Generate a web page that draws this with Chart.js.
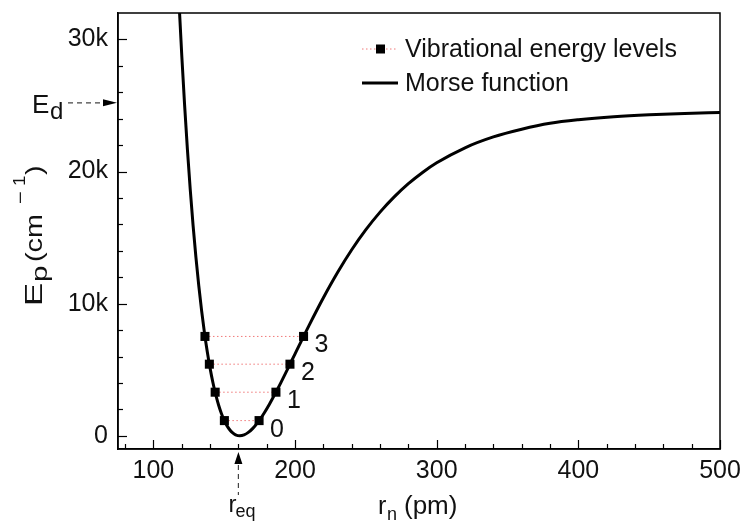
<!DOCTYPE html>
<html>
<head>
<meta charset="utf-8">
<script src="https://cdn.jsdelivr.net/npm/chart.js@4.4.1/dist/chart.umd.min.js"></script>
<style>
    html, body { margin: 0; padding: 0; background: #fff; }
    #wrap { width: 743px; height: 524px; position: relative; }
</style>
</head>
<body>
<div id="wrap"><canvas id="morseChart" width="743" height="524"></canvas></div>
<script>
// --- data ---
const rMorse = [118, 120, 122, 124, 126, 128, 130, 132, 134, 136, 138, 140, 142, 144, 146, 148, 150, 152, 154, 156,
    158, 161, 164, 167, 170, 174, 178, 182, 186, 190, 195, 200, 210, 220, 230, 240, 250, 260, 270, 280,
    290, 300, 320, 340, 360, 380, 400, 425, 450, 475, 500];
const epMorse = [33000, 28820, 25060, 21680, 18640, 15930, 13520, 11380, 9490, 7830, 6380, 5120, 4030, 3110, 2330, 1690, 1160, 750, 440, 215,
    75, 0, 67, 255, 544, 1059, 1692, 2412, 3198, 4029, 5107, 6204, 8380, 10450, 12360, 14080, 15600, 16930, 18080, 19080,
    19930, 20660, 21800, 22620, 23200, 23650, 23920, 24150, 24300, 24400, 24470];

const levelNum = ['0', '1', '2', '3'];
const levelE = [1150, 3300, 5420, 7520];
const levelLeft = [150.1, 143.6, 139.5, 136.4];
const levelRight = [174.6, 186.5, 196.4, 206.0];

const xTickVals = [100, 200, 300, 400, 500];
const yTickVals = [0, 10000, 20000, 30000];
const edValue = 25200;
const rEq = 160;

const FONT = "'Liberation Sans', Arial, sans-serif";
const LEVEL_COLOR = 'rgb(240, 120, 120)';

const morsePts = rMorse.map((r, i) => ({ x: r, y: epMorse[i] }));
const levelPts = [];
levelE.forEach((e, i) => {
    levelPts.push({ x: levelLeft[i], y: e });
    levelPts.push({ x: levelRight[i], y: e });
    levelPts.push({ x: levelRight[i], y: null });
});

function fontOf(size) { return size + 'px ' + FONT; }

// draw text stretched along its own direction
function wideText(ctx, txt, x, y, size, sx) {
    ctx.save();
    ctx.translate(x, y);
    ctx.scale(sx, 1);
    ctx.font = fontOf(size);
    ctx.fillText(txt, 0, 0);
    ctx.restore();
}

// ticks pointing inward, box, annotations and legend
const decor = {
    id: 'decor',
    afterDraw(chart) {
        const ctx = chart.ctx;
        const a = chart.chartArea;
        const xs = chart.scales.x, ys = chart.scales.y;
        ctx.save();

        // box
        ctx.strokeStyle = '#000';
        ctx.lineWidth = 1.5;
        ctx.strokeRect(a.left, a.top, a.right - a.left, a.bottom - a.top);

        // y ticks
        ctx.lineWidth = 1.2;
        for (let v = 0; v < 32000; v += 2000) {
            const y = Math.round(ys.getPixelForValue(v)) + 0.5;
            const len = v % 10000 === 0 ? 9 : 5;
            ctx.beginPath(); ctx.moveTo(a.left, y); ctx.lineTo(a.left + len, y); ctx.stroke();
        }
        // x ticks
        for (let v = 80; v <= 500; v += 20) {
            const x = Math.round(xs.getPixelForValue(v)) + 0.5;
            const len = v % 100 === 0 ? 9 : 5;
            ctx.beginPath(); ctx.moveTo(x, a.bottom); ctx.lineTo(x, a.bottom - len); ctx.stroke();
        }

        ctx.fillStyle = '#111';
        ctx.textBaseline = 'alphabetic';
        ctx.textAlign = 'left';

        // level numbers
        ctx.font = fontOf(25);
        levelNum.forEach((t, i) => {
            const px = xs.getPixelForValue(levelRight[i]);
            const py = ys.getPixelForValue(levelE[i]);
            ctx.fillText(t, px + 11, py + 16);
        });

        // E_d arrow
        const yd = ys.getPixelForValue(edValue);
        ctx.font = fontOf(26);
        ctx.fillText('E', a.left - 86, yd + 10);
        ctx.font = fontOf(24);
        ctx.fillText('d', a.left - 68, yd + 16);
        ctx.strokeStyle = '#444';
        ctx.lineWidth = 1.2;
        ctx.setLineDash([5, 4]);
        ctx.beginPath(); ctx.moveTo(a.left - 50, yd); ctx.lineTo(a.left - 14, yd); ctx.stroke();
        ctx.setLineDash([]);
        ctx.fillStyle = '#000';
        ctx.beginPath();
        ctx.moveTo(a.left - 1, yd); ctx.lineTo(a.left - 15, yd - 3.5); ctx.lineTo(a.left - 15, yd + 3.5);
        ctx.closePath(); ctx.fill();

        // r_eq arrow
        const xe = xs.getPixelForValue(rEq);
        ctx.beginPath();
        ctx.moveTo(xe, a.bottom + 3); ctx.lineTo(xe - 4, a.bottom + 15); ctx.lineTo(xe + 4, a.bottom + 15);
        ctx.closePath(); ctx.fill();
        ctx.strokeStyle = '#444';
        ctx.setLineDash([5, 4]);
        ctx.beginPath(); ctx.moveTo(xe, a.bottom + 16); ctx.lineTo(xe, a.bottom + 46); ctx.stroke();
        ctx.setLineDash([]);
        ctx.fillStyle = '#111';
        ctx.font = fontOf(24);
        ctx.fillText('r', xe - 10, 512);
        ctx.font = fontOf(18);
        ctx.fillText('eq', xe - 3, 517);

        // x title
        const cx = (a.left + a.right) / 2;
        ctx.font = fontOf(25);
        ctx.fillText('r', cx - 41, 514);
        ctx.font = fontOf(18);
        ctx.fillText('n', cx - 32, 520);
        ctx.font = fontOf(26);
        ctx.fillText('(pm)', cx - 15, 514);

        // y title (rotated)
        ctx.save();
        ctx.translate(42, 306);
        ctx.rotate(-Math.PI / 2);
        wideText(ctx, 'E', 0, 0, 24, 1.45);
        wideText(ctx, 'p', 24, 5, 22, 1.35);
        wideText(ctx, '(cm', 44, 0, 24, 1.2);
        wideText(ctx, '\u2212', 102, -16, 17, 1.3);
        wideText(ctx, '1', 120, -17, 17, 1.1);
        wideText(ctx, ')', 131, 0, 24, 1.2);
        ctx.restore();

        // legend
        const lx = a.left + 244;
        ctx.strokeStyle = LEVEL_COLOR;
        ctx.lineWidth = 1;
        ctx.setLineDash([1.5, 2.5]);
        ctx.beginPath(); ctx.moveTo(lx, 49); ctx.lineTo(lx + 36, 49); ctx.stroke();
        ctx.setLineDash([]);
        ctx.fillStyle = '#000';
        ctx.fillRect(lx + 14, 44.5, 9, 9);
        ctx.strokeStyle = '#000';
        ctx.lineWidth = 3;
        ctx.beginPath(); ctx.moveTo(lx, 83); ctx.lineTo(lx + 36, 83); ctx.stroke();
        ctx.fillStyle = '#111';
        ctx.font = fontOf(25);
        ctx.fillText('Vibrational energy levels', lx + 43, 57);
        ctx.fillText('Morse function', lx + 43, 91);

        ctx.restore();
    }
};

function noPad(s) {
    s.paddingLeft = 0; s.paddingRight = 0; s.paddingTop = 0; s.paddingBottom = 0;
}

const ctx = document.getElementById('morseChart');
new Chart(ctx, {
    type: 'line',
    data: {
        datasets: [
            {
                label: 'Vibrational energy levels',
                data: levelPts,
                borderColor: LEVEL_COLOR,
                borderWidth: 1,
                borderDash: [1.5, 2.5],
                pointStyle: 'rect',
                pointRadius: 6.4,
                pointBackgroundColor: '#000',
                pointBorderColor: '#000',
                pointBorderWidth: 0,
                spanGaps: false,
                order: 0
            },
            {
                label: 'Morse function',
                data: morsePts,
                borderColor: '#000',
                borderWidth: 3,
                pointRadius: 0,
                cubicInterpolationMode: 'monotone',
                fill: false,
                order: 1
            }
        ]
    },
    options: {
        responsive: false,
        animation: false,
        layout: { padding: { top: 13, right: 23, left: 0, bottom: 0 } },
        plugins: {
            legend: { display: false },
            tooltip: { enabled: false }
        },
        scales: {
            x: {
                type: 'linear',
                min: 75,
                max: 500,
                afterBuildTicks: s => { s.ticks = xTickVals.map(v => ({ value: v })); },
                afterFit: s => { s.height = 75; noPad(s); },
                grid: { display: false, drawTicks: false },
                border: { display: true, color: '#000', width: 1.5 },
                ticks: {
                    autoSkip: false,
                    maxRotation: 0,
                    padding: 7,
                    color: '#111',
                    font: { family: FONT, size: 25 }
                }
            },
            y: {
                type: 'linear',
                min: -1000,
                max: 32000,
                afterBuildTicks: s => { s.ticks = yTickVals.map(v => ({ value: v })); },
                afterFit: s => { s.width = 118; noPad(s); },
                grid: { display: false, drawTicks: false },
                border: { display: true, color: '#000', width: 1.5 },
                ticks: {
                    padding: 10,
                    color: '#111',
                    font: { family: FONT, size: 25 },
                    callback: v => v === 0 ? '0' : (v / 1000) + 'k'
                }
            }
        }
    },
    plugins: [decor]
});
</script>
</body>
</html>
